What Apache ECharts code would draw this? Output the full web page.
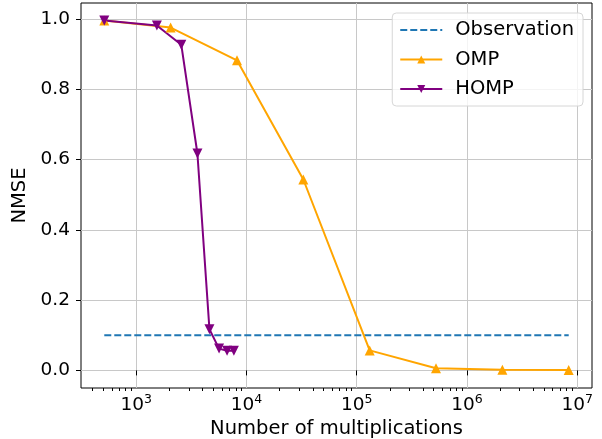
<!DOCTYPE html>
<html>
<head>
<meta charset="utf-8">
<script src="https://cdn.jsdelivr.net/npm/echarts@6/dist/echarts.min.js"></script>
<style>
  html, body { margin: 0; padding: 0; background: #fff; }
  #main { width: 602px; height: 439px; }
</style>
</head>
<body>
<div id="main"></div>
<script>
// data
var ompX = [512, 2048, 8192, 32768, 131072, 524288, 2097152, 8388608];
var ompY = [0.995, 0.975, 0.882, 0.543, 0.057, 0.006, 0.002, 0.001];
var hompX = [512, 1536, 2560, 3584, 4608, 5632, 6656, 7680];
var hompY = [0.995, 0.981, 0.926, 0.617, 0.117, 0.062, 0.056, 0.056];
var obsX = [512, 8388608];
var obsY = [0.1, 0.1];
var xTicks = [1e3, 1e4, 1e5, 1e6, 1e7];
var yTicks = [0, 0.2, 0.4, 0.6, 0.8, 1.0];

var xMin = Math.pow(10, 2.498), xMax = Math.pow(10, 7.135);

// minor ticks 2..9 x 10^k
var minorTicks = [];
for (var k = 2; k <= 7; k++) {
  for (var m = 2; m <= 9; m++) {
    var v = m * Math.pow(10, k);
    if (v > xMin && v < xMax) minorTicks.push(v);
  }
}

function pairs(xs, ys) {
  return xs.map(function (x, i) { return [x, ys[i]]; });
}

var font = 'DejaVu Sans';
var fs = 18.5;   // tick labels
var fsName = 19.5; // axis titles + legend
var chart = echarts.init(document.getElementById('main'));
chart.setOption({
  animation: false,
  textStyle: { fontFamily: font },
  grid: {
    left: 81, right: 10, top: 3, bottom: 51,
    outerBoundsMode: 'none',
    containLabel: false,
    show: true, borderColor: '#000', borderWidth: 1, backgroundColor: 'transparent'
  },
  legend: {
    orient: 'vertical',
    right: 19, top: 13,
    padding: [7, 9, 7, 7],
    itemWidth: 42, itemHeight: 10, itemGap: 9.5,
    backgroundColor: 'rgba(255,255,255,0.8)',
    borderColor: '#d6d6d6', borderWidth: 1, borderRadius: 4,
    textStyle: { fontFamily: font, fontSize: fsName, lineHeight: 20, color: '#000', padding: [0, 0, 0, 8] },
    data: [
      { name: 'Observation', itemStyle: { opacity: 0 } },
      'OMP',
      'HOMP'
    ]
  },
  xAxis: [{
    type: 'log',
    min: xMin, max: xMax,
    name: 'Number of multiplications',
    nameLocation: 'middle', nameGap: 30,
    nameTextStyle: { fontFamily: font, fontSize: fsName, color: '#000' },
    axisLine: { show: false },
    axisTick: { show: true, inside: false, length: 5, customValues: xTicks, lineStyle: { color: '#000' } },
    axisLabel: {
      customValues: xTicks,
      margin: 5,
      formatter: function (v) {
        return '{b|10}{e|' + Math.round(Math.log10(v)) + '}';
      },
      rich: {
        b: { fontFamily: font, fontSize: fs, color: '#000' },
        e: { fontFamily: font, fontSize: 12.5, color: '#000', padding: [0, 0, 11, 0] }
      }
    },
    splitLine: { show: true, lineStyle: { color: '#c8c8c8', width: 1 } }
  }, {
    type: 'log',
    min: xMin, max: xMax,
    position: 'bottom',
    axisLine: { show: false },
    axisTick: { show: true, inside: false, length: 3, customValues: minorTicks, lineStyle: { color: '#000' } },
    axisLabel: { show: false },
    splitLine: { show: false }
  }],
  yAxis: {
    type: 'value',
    min: -0.05, max: 1.045,
    name: 'NMSE',
    nameLocation: 'middle', nameGap: 46,
    nameTextStyle: { fontFamily: font, fontSize: fsName, color: '#000' },
    axisLine: { show: false },
    axisTick: { show: true, inside: false, length: 5, customValues: yTicks, lineStyle: { color: '#000' } },
    axisLabel: {
      customValues: yTicks,
      margin: 11,
      fontFamily: font, fontSize: fs, color: '#000',
      formatter: function (v) { return v.toFixed(1); }
    },
    splitLine: { show: true, lineStyle: { color: '#c8c8c8', width: 1 } }
  },
  series: [{
    name: 'Observation',
    type: 'line',
    data: pairs(obsX, obsY),
    symbol: 'none',
    lineStyle: { color: '#1f77b4', width: 2, type: [7, 3] },
    itemStyle: { color: '#1f77b4' }
  }, {
    name: 'OMP',
    type: 'line',
    data: pairs(ompX, ompY),
    symbol: 'triangle',
    symbolSize: 10,
    lineStyle: { color: '#FFA500', width: 2 },
    itemStyle: { color: '#FFA500' }
  }, {
    name: 'HOMP',
    type: 'line',
    data: pairs(hompX, hompY),
    symbol: 'path://M0,0 L10,0 L5,10 Z',
    symbolSize: 10,
    lineStyle: { color: '#800080', width: 2 },
    itemStyle: { color: '#800080' }
  }]
});
</script>
</body>
</html>
